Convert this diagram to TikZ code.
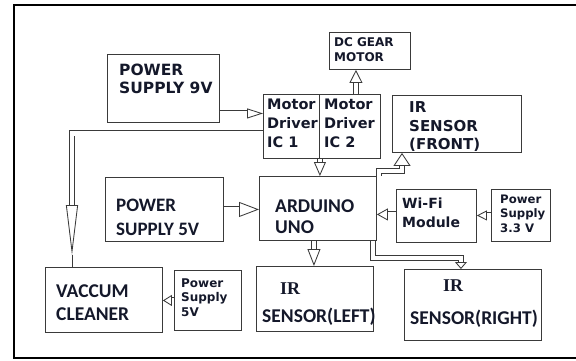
\documentclass[tikz,border=0pt]{standalone}
\usepackage{fontspec}
\usetikzlibrary{arrows.meta, positioning, calc}
\newfontfamily\verd{DejaVu Sans}
\newfontfamily\cali{Carlito}
\newfontfamily\tms{Liberation Serif}
\definecolor{cline}{HTML}{3A3A3A}
\definecolor{ctext}{HTML}{14182A}
\tikzset{
  box/.style={draw=cline, line width=0.9pt, anchor=north west, inner sep=0pt},
  vt/.style 2 args={anchor=west, align=left, inner sep=0pt, text=ctext, font=\verd\bfseries\fontsize{#1}{#2}\selectfont},
  ct/.style 2 args={anchor=west, align=left, inner sep=0pt, text=ctext, font=\cali\bfseries\fontsize{#1}{#2}\selectfont},
  st/.style={anchor=west, inner sep=0pt, text=ctext, font=\tms\bfseries\fontsize{18pt}{20pt}\selectfont},
  hollow/.style={draw=cline, line width=0.85pt, double=white, double distance=4.3pt,
    -{Triangle[open, line width=0.85pt, #1]}},
  hollow/.default={length=13pt, width=13pt},
}

\begin{document}
\begin{tikzpicture}[x=1pt, y=-1pt]
  \useasboundingbox (0,0) rectangle (576,360);
  % ---------- frame
  \draw[line width=2pt] (14,5) rectangle (584,358);
  % ---------- blocks
  \foreach \n/\x/\y/\w/\h in {ps9/107/54/112/68, icA/263/94/56/64, icB/319/94/61/64,
      motor/329/32/81/37, irf/392/95/129/57, ps5/105/177/118/64, ard/259/176/117/64,
      wifi/396/189/80/53, ps33/491/189/59/52, irl/256/266/117/65, irr/404/269/137/71,
      vac/45/267/117/65, psv/174/270/67/60}
    \node[box, minimum width=\w pt, minimum height=\h pt] (\n) at (\x,\y) {};
  % ---------- texts
  \node[vt={15.5pt}{18pt}] (ps9-t) at (119,79) {POWER\\SUPPLY 9V};
  \node[vt={14.5pt}{19pt}] (icA-t) at (267,123) {Motor\\Driver\\IC 1};
  \node[vt={14.5pt}{19pt}] (icB-t) at (324,123) {Motor\\Driver\\IC 2};
  \node[vt={12pt}{14.5pt}] (motor-t) at (334,49.5) {DC GEAR\\MOTOR};
  \node[vt={15pt}{18.5pt}] (irf-t) at (409,127) {IR\\SENSOR\\(FRONT)};
  \node[vt={14pt}{19pt}] (wifi-t) at (402,212.5) {Wi-Fi\\Module};
  \node[vt={11.7pt}{14.5pt}] (ps33-t) at (500,213.5) {Power\\Supply\\3.3 V};
  \node[vt={12pt}{14.5pt}] (psv-t) at (181,297.5) {Power\\Supply\\5V};
  \node[ct={19pt}{24pt}] (ps5-t) at (116,217) {POWER\\SUPPLY 5V};
  \node[ct={19.5pt}{23pt}] (vac-t) at (56,302.5) {VACCUM\\CLEANER};
  \node[ct={19.5pt}{21pt}] (ard-t) at (275,217) {ARDUINO\\UNO};
  \node[st] (irl-a) at (280,289) {IR};
  \node[ct={19.5pt}{21pt}] (irl-b) at (262,317) {SENSOR(LEFT)};
  \node[st] (irr-a) at (443,286) {IR};
  \node[ct={19.5pt}{21pt}] (irr-b) at (410,319) {SENSOR(RIGHT)};
  % ---------- links
  \draw[hollow={length=16pt, width=10pt}] ([yshift=-25pt]ps9.east) -- ([yshift=-25pt]ps9.east -| icA.west);
  \coordinate (vtip) at (72,255);
  \draw[hollow={length=50pt, width=12pt}] ([yshift=-7pt]icA.west) -| (vtip);
  \draw[draw=cline, line width=0.9pt] (vtip) -- (vtip |- vac.north);
  \draw[hollow={length=14pt, width=12pt}] (icA.south east) -- (icA.south east |- ard.north);
  \draw[hollow] ([xshift=6pt]icB.north) -- ([xshift=6pt]icB.north |- motor.south);
  \draw[hollow={length=13pt, width=17pt}] ([xshift=2pt]ard.north east) -- ++(0,-5) -| ([xshift=10pt]irf.south west);
  \draw[hollow={length=20pt, width=15pt}] (ps5.east) -- (ps5.east -| ard.west);
  \draw[hollow={length=11pt, width=12pt}] ([yshift=1.5pt]wifi.west) -- ([yshift=1.5pt]wifi.west -| ard.east);
  \draw[hollow={length=10pt, width=10pt}] (ps33.west) -- (ps33.west -| wifi.east);
  \draw[hollow={length=17pt, width=13pt}] ([xshift=-1pt]irl.north |- ard.south) -- ([xshift=-1pt]irl.north);
  \draw[hollow={length=7pt, width=12pt}] ([xshift=-4pt]ard.south east) -- ++(0,17) -| ([xshift=-12pt]irr.north);
  \draw[hollow={length=9pt, width=11pt}] (psv.west) -- (psv.west -| vac.east);
\end{tikzpicture}
\end{document}
